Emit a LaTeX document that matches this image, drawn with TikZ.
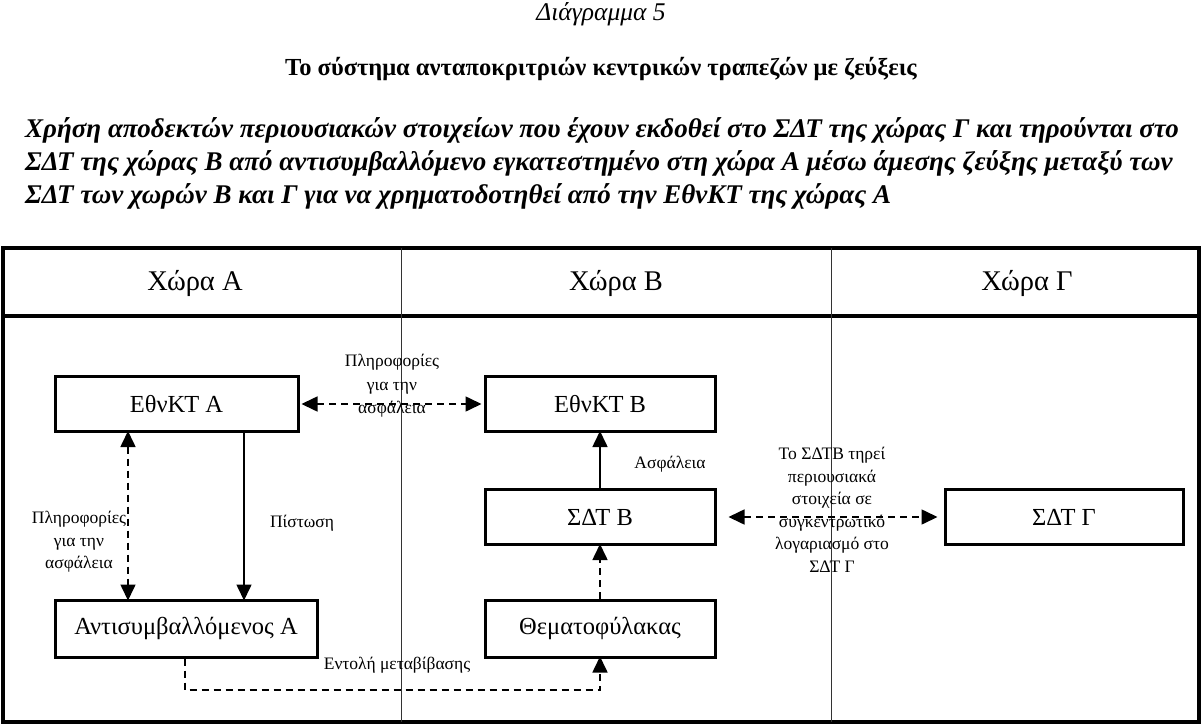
\documentclass[tikz,border=0pt]{standalone}
\usepackage{fontspec}
\setmainfont{Liberation Serif}
\usetikzlibrary{arrows.meta,calc}
\begin{document}
\begin{tikzpicture}[x=1pt,y=-1pt,
  box/.style={draw,line width=3pt,minimum width=#1,minimum height=55pt,inner sep=0pt,font=\fontsize{24.5}{26}\selectfont},
  box/.default=230pt,
  lbl/.style={font=\fontsize{17.5}{23.5}\selectfont,align=center,inner sep=0pt},
  lbls/.style={lbl,font=\fontsize{17.5}{22.5}\selectfont},
  hdr/.style={font=\fontsize{28.5}{30}\selectfont,inner sep=0pt},
  para/.style={font=\bfseries\itshape\fontsize{27}{29}\selectfont,anchor=west,inner sep=0pt},
  arr/.style={line width=1.6pt,-{Triangle[length=16pt,width=15pt]}},
  darr/.style={line width=1.6pt,{Triangle[length=16pt,width=15pt]}-{Triangle[length=16pt,width=15pt]}},
  dsh/.style={dash pattern=on 7pt off 5pt}
]
\useasboundingbox (0,0) rectangle (1202,725);
% titles
\node[font=\itshape\fontsize{25.5}{27}\selectfont] (t1) at (601,14) {Διάγραμμα 5};
\node[font=\bfseries\fontsize{24.5}{26}\selectfont] (t2) at (601,69) {Το σύστημα ανταποκριτριών κεντρικών τραπεζών με ζεύξεις};
\node[para] (p1) at (25,130) {Χρήση αποδεκτών περιουσιακών στοιχείων που έχουν εκδοθεί στο ΣΔΤ της χώρας Γ και τηρούνται στο};
\node[para] (p2) at (25,163) {ΣΔΤ της χώρας Β από αντισυμβαλλόμενο εγκατεστημένο στη χώρα Α μέσω άμεσης ζεύξης μεταξύ των};
\node[para] (p3) at (25,196) {ΣΔΤ των χωρών Β και Γ για να χρηματοδοτηθεί από την ΕθνΚΤ της χώρας Α};
% frame
\draw[line width=3.5pt] (3,248) rectangle (1199,722);
\draw[line width=3.5pt] (3,316) -- (1199,316);
\draw[line width=0.9pt,black!80] (401,248) -- (401,722);
\draw[line width=0.9pt,black!80] (831,248) -- (831,722);
\node[hdr] (hA) at (195,283) {Χώρα Α};
\node[hdr] (hB) at (616,283) {Χώρα Β};
\node[hdr] (hC) at (1027,283) {Χώρα Γ};
% boxes
\node[box=243pt] (eA) at (176.5,404) {ΕθνΚΤ Α};
\node[box] (eB) at (600,404) {ΕθνΚΤ Β};
\node[box] (sB) at (600,517) {ΣΔΤ Β};
\node[box=238pt] (sC) at (1064,517) {ΣΔΤ Γ};
\node[box=262pt,minimum height=57pt] (cA) at (186,628.5) {Αντισυμβαλλόμενος Α};
\node[box,minimum height=57pt] (th) at (600,628.5) {Θεματοφύλακας};
% connectors
\coordinate (x1) at (128,0);
\coordinate (x2) at (244,0);
\coordinate (x3) at (185,690);
\draw[darr,dsh] ([xshift=2pt]eA.east) -- ([xshift=-2pt]eB.west);
\draw[darr,dsh] ([yshift=2pt]eA.south -| x1) -- ([yshift=-2pt]cA.north -| x1);
\draw[arr] (eA.south -| x2) -- ([yshift=-2pt]cA.north -| x2);
\draw[arr] (sB.north) -- ([yshift=2pt]eB.south);
\draw[arr,dsh] (th.north) -- ([yshift=2pt]sB.south);
\draw[darr,dsh] ([xshift=12pt]sB.east) -- ([xshift=-6pt]sC.west);
\draw[arr,dsh] (cA.south -| x3) -- (x3) -| ([yshift=2pt]th.south);
% labels
\node[lbl] (l1) at (392,386) {Πληροφορίες\\για την\\ασφάλεια};
\node[lbls] (l2) at (79,542) {Πληροφορίες\\για την\\ασφάλεια};
\node[lbl] (l3) at (302,523) {Πίστωση};
\node[lbl] (l4) at (670,464) {Ασφάλεια};
\node[lbls] (l5) at (832,510) {Το ΣΔΤΒ τηρεί\\περιουσιακά\\στοιχεία σε\\συγκεντρωτικό\\λογαριασμό στο\\ΣΔΤ Γ};
\node[lbl] (l6) at (397,665) {Εντολή μεταβίβασης};
\end{tikzpicture}
\end{document}
